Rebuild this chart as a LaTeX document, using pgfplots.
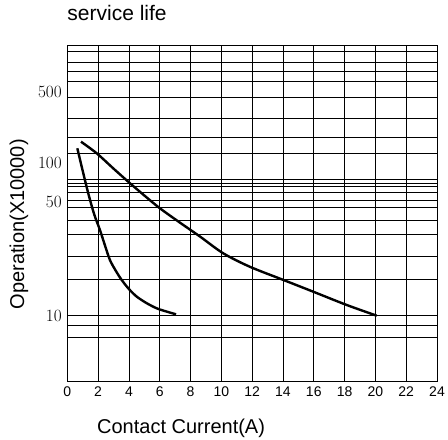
\documentclass[border=0pt]{standalone}
\usepackage{fontspec}
\setmainfont{Liberation Sans}
\usepackage{pgfplots}
\pgfplotsset{compat=1.18}
\begin{document}
\begin{tikzpicture}
\path[use as bounding box] (-67.3bp,-58.3bp) rectangle (380.7bp,381.7bp);
\begin{axis}[
  at={(0,0)}, anchor=south west,
  scale only axis,
  width=369.7bp, height=335.7bp,
  xmin=0, xmax=24,
  ymode=log, ymin=3.924, ymax=457.9,
  xtick={0,2,...,24},
  xticklabels={0,2,4,6,8,10,12,14,16,18,20,22,24},
  ytick={7.32,8.68,10,16.8,23.3,31.7,38.7,46.7,51.6,57.2,62.3,65.4,69.2,100,125.5,164.3,220.0,278.7,319.8,363.3,422.3},
  yticklabels={},
  extra y ticks={10,50.4,86.8,239.5},
  extra y tick labels={$10$,$50$,$100$,$500$},
  extra y tick style={grid=none},
  minor y tick num=0,
  major tick length=0pt, minor tick length=0pt,
  xmajorgrids, ymajorgrids,
  grid style={black, line width=0.8bp},
  axis line style={black, line width=1bp},
  xticklabel style={font=\fontsize{14bp}{14bp}\selectfont, yshift=-2bp},
  yticklabel style={font=\fontsize{17bp}{17bp}\selectfont, xshift=-2bp},
  title={service life},
  title style={font=\fontsize{21bp}{21bp}\selectfont, at={(axis description cs:0,1.0596)}, anchor=base west, inner sep=0pt},
  xlabel={Contact Current(A)},
  xlabel style={font=\fontsize{20bp}{20bp}\selectfont, at={(axis description cs:0.0803,-0.1537)}, anchor=base west, inner sep=0pt},
  ylabel={Operation(X10000)},
  ylabel style={font=\fontsize{20bp}{20bp}\selectfont, at={(axis description cs:-0.117,0.469)}, anchor=base, inner sep=0pt},
]
\addplot[black, line width=2.4bp, smooth, tension=0.5] coordinates {
 (0.65,107.4) (1.0,78) (1.36,56.7) (1.75,42) (2.12,33.7) (2.45,27) (2.77,22.0) (3.15,18.9) (3.53,16.6) (4.0,14.6) (4.51,13.1) (5.15,11.95) (5.81,11.1) (6.45,10.6) (7.06,10.2)
};
\addplot[black, line width=2.4bp, smooth, tension=0.5] coordinates {
 (0.89,117.9) (1.91,100) (3.0,80.5) (4.07,65.4) (5.0,55) (6.02,45.8) (7.3,37.5) (8.62,30.7) (10.13,24.2) (11.86,20.0) (14.03,16.6) (15.97,14.05) (18.14,11.64) (20.09,10.0)
};
\end{axis}
\end{tikzpicture}
\end{document}
